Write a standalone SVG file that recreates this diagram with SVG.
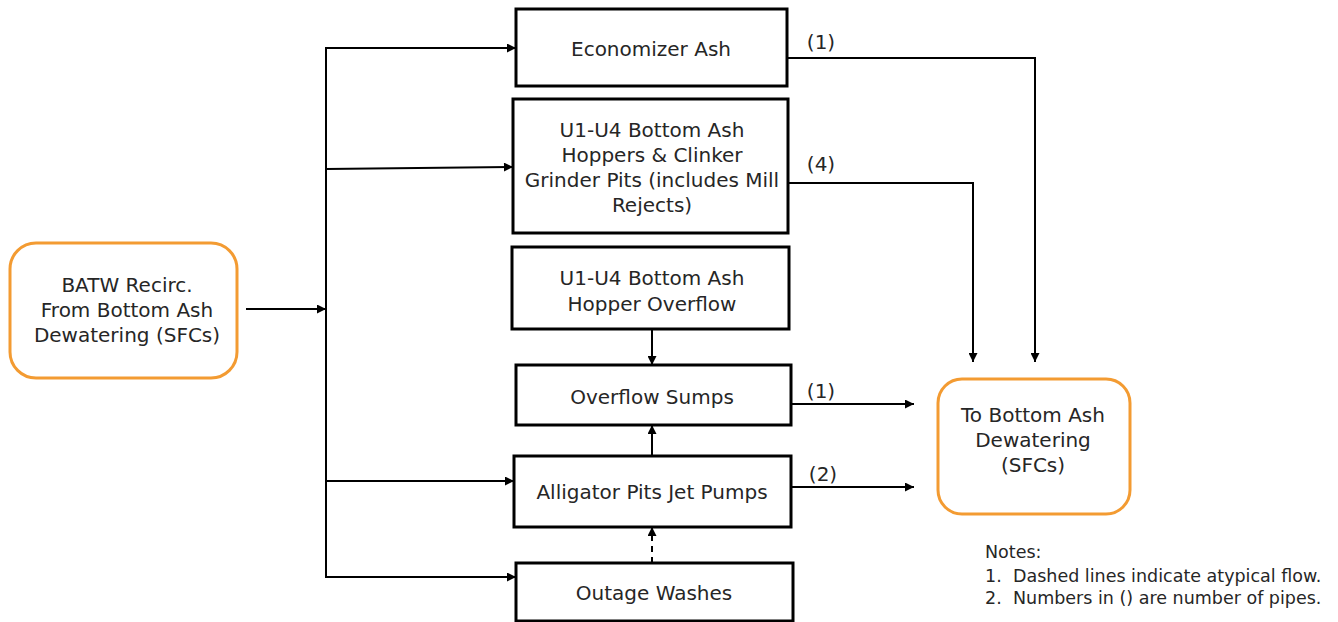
<svg xmlns="http://www.w3.org/2000/svg" width="1338" height="622" viewBox="0 0 1338 622">
  <style>
    .box { fill: #ffffff; stroke: #000000; stroke-width: 3; }
    .term { fill: #ffffff; stroke: #F39B32; stroke-width: 3; }
    .lbl { font-family: "DejaVu Sans", "Liberation Sans", sans-serif; font-size: 20px; fill: #262626; text-anchor: middle; }
    .num { font-family: "DejaVu Sans", "Liberation Sans", sans-serif; font-size: 20px; fill: #262626; text-anchor: middle; }
    .note { font-family: "DejaVu Sans", "Liberation Sans", sans-serif; font-size: 17.5px; fill: #262626; }
    .wire { fill: none; stroke: #000000; stroke-width: 2; marker-end: url(#arrow); }
    .bus { fill: none; stroke: #000000; stroke-width: 2; }
    .dash { stroke-dasharray: 6 5; }
  </style>
  <defs>
    <marker id="arrow" viewBox="0 0 10 10" refX="10" refY="5" markerUnits="userSpaceOnUse" markerWidth="10" markerHeight="9" orient="auto">
      <path d="M0,0 L10,5 L0,10 z" fill="#000000"/>
    </marker>
  </defs>
  <rect width="1338" height="622" fill="#ffffff"/>

  <!-- source -->
  <g id="batw-recirc">
    <rect class="term" x="10" y="243" width="227" height="135" rx="26"/>
    <text class="lbl" x="127" y="292">BATW Recirc.</text>
    <text class="lbl" x="127" y="317">From Bottom Ash</text>
    <text class="lbl" x="127" y="342">Dewatering (SFCs)</text>
  </g>

  <g id="economizer-ash">
    <rect class="box" x="516" y="9" width="271" height="77"/>
    <text class="lbl" x="651" y="56">Economizer Ash</text>
  </g>

  <g id="bottom-ash-hoppers">
    <rect class="box" x="513" y="99" width="275" height="134"/>
    <text class="lbl" x="652" y="137">U1-U4 Bottom Ash</text>
    <text class="lbl" x="652" y="162">Hoppers &amp; Clinker</text>
    <text class="lbl" x="652" y="187">Grinder Pits (includes Mill</text>
    <text class="lbl" x="652" y="212">Rejects)</text>
  </g>

  <g id="hopper-overflow">
    <rect class="box" x="512" y="247" width="277" height="82"/>
    <text class="lbl" x="652" y="285">U1-U4 Bottom Ash</text>
    <text class="lbl" x="652" y="311">Hopper Overflow</text>
  </g>

  <g id="overflow-sumps">
    <rect class="box" x="516" y="365" width="275" height="60"/>
    <text class="lbl" x="652" y="404">Overflow Sumps</text>
  </g>

  <g id="alligator-pits">
    <rect class="box" x="514" y="456" width="277" height="71"/>
    <text class="lbl" x="652" y="499">Alligator Pits Jet Pumps</text>
  </g>

  <g id="outage-washes">
    <rect class="box" x="516" y="563" width="277" height="58"/>
    <text class="lbl" x="654" y="600">Outage Washes</text>
  </g>

  <!-- destination -->
  <g id="to-bottom-ash-dewatering">
    <rect class="term" x="938" y="379" width="192" height="135" rx="24"/>
    <text class="lbl" x="1033" y="422">To Bottom Ash</text>
    <text class="lbl" x="1033" y="447">Dewatering</text>
    <text class="lbl" x="1033" y="472">(SFCs)</text>
  </g>

  <g id="connectors">
    <line class="wire" x1="246" y1="309" x2="326" y2="309"/>
    <line class="bus" x1="326" y1="47" x2="326" y2="578"/>
    <line class="wire" x1="326" y1="48" x2="516" y2="48"/>
    <line class="wire" x1="326" y1="169" x2="513" y2="167"/>
    <line class="wire" x1="326" y1="481" x2="514" y2="481"/>
    <line class="wire" x1="326" y1="577" x2="516" y2="577"/>
    <line class="wire" x1="652" y1="329" x2="652" y2="365"/>
    <line class="wire" x1="652" y1="456" x2="652" y2="425"/>
    <line class="wire dash" x1="652" y1="563" x2="652" y2="527"/>
    <polyline class="wire" points="787,58 1035,58 1035,362"/>
    <polyline class="wire" points="788,183 973,183 973,362"/>
    <line class="wire" x1="791" y1="404" x2="914" y2="404"/>
    <line class="wire" x1="791" y1="487" x2="914" y2="487"/>
    <text class="num" x="821" y="49">(1)</text>
    <text class="num" x="821" y="171">(4)</text>
    <text class="num" x="821" y="398">(1)</text>
    <text class="num" x="823" y="481">(2)</text>
  </g>

  <g id="notes">
    <text class="note" x="985" y="558">Notes:</text>
    <text class="note" x="985" y="582">1.</text>
    <text class="note" x="1013" y="582">Dashed lines indicate atypical flow.</text>
    <text class="note" x="985" y="604">2.</text>
    <text class="note" x="1013" y="604">Numbers in () are number of pipes.</text>
  </g>
</svg>
